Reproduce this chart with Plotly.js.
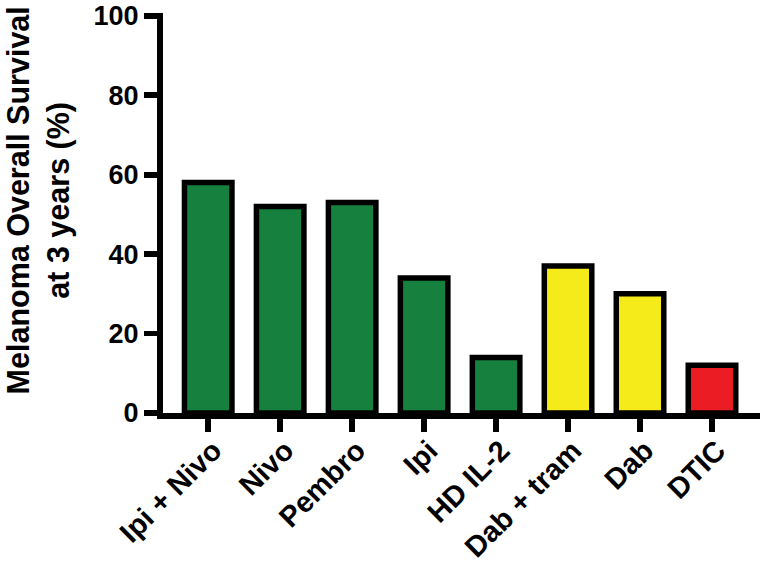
<!DOCTYPE html>
<html>
<head>
<meta charset="utf-8">
<script src="https://cdn.plot.ly/plotly-3.0.1.min.js"></script>
<style>html,body{margin:0;padding:0;background:#fff;}#chart{width:760px;height:571px;}</style>
</head>
<body>
<div id="chart"></div>
<script>
var categories = ["Ipi + Nivo", "Nivo", "Pembro", "Ipi", "HD IL-2", "Dab + tram", "Dab", "DTIC"];
var survival = [58, 52, 53, 34, 14, 37, 30, 12];
var barColors = ["#16803F", "#16803F", "#16803F", "#16803F", "#16803F", "#F5EA1A", "#F5EA1A", "#EC1C24"];
var yTicks = [0, 20, 40, 60, 80, 100];

var font = {family: "Liberation Sans, Arial, Helvetica, sans-serif", color: "#000", weight: "bold"};

var trace = {
  type: "bar",
  x: categories.map(function(c, i){ return i; }),
  y: survival,
  width: 0.66,
  marker: {color: barColors, line: {color: "#000", width: 5.5}},
  hoverinfo: "skip"
};

var layout = {
  width: 760, height: 571,
  margin: {l: 162.75, r: 0, t: 12.7, b: 158.25, pad: 0},
  paper_bgcolor: "#fff", plot_bgcolor: "#fff",
  showlegend: false,
  bargap: 0,
  xaxis: {
    range: [-0.628, 7.667],
    tickmode: "array",
    tickvals: categories.map(function(c, i){ return i; }),
    ticktext: categories,
    tickangle: -45,
    ticks: "outside", ticklen: 13, tickwidth: 5.7, tickcolor: "#000",
    ticklabelstandoff: -10, ticklabelshift: 5,
    showline: true, linewidth: 6, linecolor: "#000",
    showgrid: false, zeroline: false,
    tickfont: Object.assign({size: 29}, font),
    fixedrange: true
  },
  yaxis: {
    range: [0, 100.7],
    tickmode: "array",
    tickvals: yTicks,
    ticktext: yTicks.map(String),
    ticks: "outside", ticklen: 13, tickwidth: 5.7, tickcolor: "#000",
    showline: true, linewidth: 6, linecolor: "#000",
    showgrid: false, zeroline: false,
    tickfont: Object.assign({size: 27}, font),
    fixedrange: true
  },
  annotations: [{
    text: "Melanoma Overall Survival<br>at 3 years (%)",
    textangle: -90,
    xref: "paper", yref: "paper",
    x: -0.209, y: 0.532,
    xanchor: "center", yanchor: "middle",
    showarrow: false,
    font: Object.assign({size: 30.5}, font)
  }]
};

Plotly.newPlot("chart", [trace], layout, {staticPlot: true, displayModeBar: false});
</script>
</body>
</html>
